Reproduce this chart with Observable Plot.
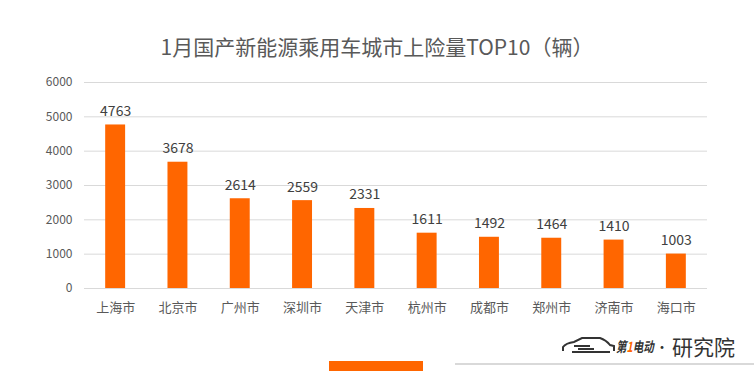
<!DOCTYPE html>
<html><head><meta charset="utf-8">
<script src="https://cdn.jsdelivr.net/npm/d3@7"></script>
<script src="https://cdn.jsdelivr.net/npm/@observablehq/plot@0.6"></script>
<style>
body{margin:0;background:#fff;font-family:"Noto Sans CJK SC","Noto Sans",sans-serif;}
#wrap{position:relative;width:754px;height:391px;overflow:hidden;}
#title{position:absolute;left:0;width:754px;top:31px;text-align:center;font-size:21px;color:#595959;white-space:nowrap;}
#bar{position:absolute;left:329px;top:361px;width:94px;height:10px;background:#ff6600;}
#line{position:absolute;left:455px;top:363px;width:299px;height:2px;background:#d9d9d9;}
#logo{position:absolute;left:560px;top:334px;height:24px;display:flex;align-items:center;white-space:nowrap;color:#333;}
#logo1{display:inline-block;width:38px;overflow:visible;font-size:14px;font-weight:bold;font-style:italic;transform:scaleX(0.75);transform-origin:left center;}
#dot{font-size:14px;margin:0 3px 0 1px;}
#logo2{font-size:21px;line-height:24px;}
#chart{position:absolute;left:0;top:0;}
</style></head><body>
<div id="wrap">
<div id="chart"></div>
<div id="title">1月国产新能源乘用车城市上险量TOP10（辆）</div>
<div id="bar"></div>
<div id="line"></div>
<div id="logo">
<svg width="56" height="20" viewBox="0 0 56 20"><path d="M3 15 L3 11 Q6 7 14 6 L22 2 L40 2 Q46 4 50 9 L54 10 L54 15" fill="none" stroke="#333" stroke-width="2"/><path d="M14 10 L30 10 M18 13 L34 13 M12 16 L50 16" stroke="#333" stroke-width="2"/></svg>
<span id="logo1">第<span style="color:#ff6600">1</span>电动</span><span id="dot">•</span><span id="logo2">研究院</span>
</div>
</div>
<script>
const cities = ["上海市","北京市","广州市","深圳市","天津市","杭州市","成都市","郑州市","济南市","海口市"];
const values = [4763,3678,2614,2559,2331,1611,1492,1464,1410,1003];
const yTicks = [0,1000,2000,3000,4000,5000,6000];
const data = cities.map((c,i)=>({city:c, value:values[i]}));
const chart = Plot.plot({
  width:754, height:391,
  marginLeft:84, marginRight:47, marginTop:82, marginBottom:103,
  style:{fontFamily:'"Noto Sans CJK SC","Noto Sans",sans-serif', color:"#595959", background:"transparent"},
  x:{domain:cities, paddingInner:0.68, paddingOuter:0.34, round:false, label:null},
  y:{domain:[0,6000], label:null},
  marks:[
    Plot.gridY(yTicks,{stroke:"#d9d9d9", strokeOpacity:1}),
    Plot.axisY(yTicks,{tickSize:0, tickPadding:12, fontSize:12, fill:"#595959", tickFormat:d=>String(d)}),
    Plot.axisX({tickSize:0, tickPadding:14, fontSize:13, fill:"#595959"}),
    Plot.barY(data,{x:"city", y:"value", fill:"#ff6600"}),
    Plot.text(data,{x:"city", y:"value", text:d=>String(d.value), dy:-9, lineAnchor:"bottom", fontSize:14, fill:"#404040"})
  ]
});
document.getElementById("chart").appendChild(chart);
</script>
</body></html>
